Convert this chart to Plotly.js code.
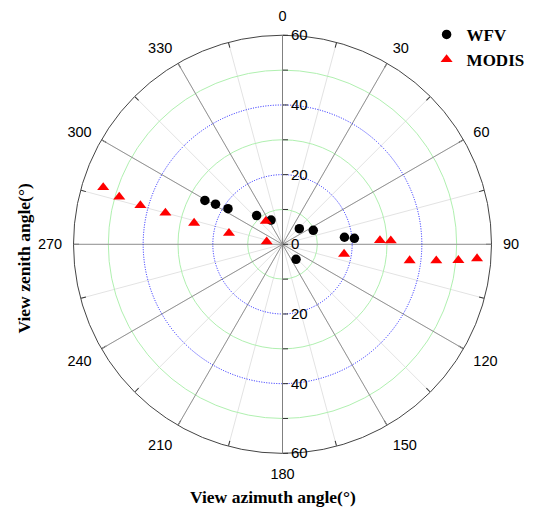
<!DOCTYPE html>
<html>
<head>
<meta charset="utf-8">
<script src="https://cdn.plot.ly/plotly-3.0.1.min.js"></script>
<style>html,body{margin:0;padding:0;background:#fff;}#chart{width:540px;height:510px;}</style>
</head>
<body>
<div id="chart"></div>
<script>
// WFV observations: view azimuth (deg) and view zenith (deg)
var wfvAzimuth = [299.5, 300.9, 303.2, 318, 334.7, 47.1, 65.6, 83.5, 85.2, 138];
var wfvZenith  = [25.6, 22.4, 18.7, 11.1, 7.7, 6.6, 9.7, 17.9, 20.7, 5.8];
// MODIS observations
var modisAzimuth = [287.6, 286.2, 285.3, 285, 283.5, 281.7, 324.2, 279.3, 99.0, 87.7, 88.1, 97.3, 96.1, 95.2, 94.2];
var modisZenith  = [54.0, 48.8, 42.3, 34.8, 26.1, 15.7, 8.2, 4.6, 17.9, 28.0, 31.1, 36.8, 44.4, 50.7, 56.0];
// Tick labels
var angularVals = [0, 30, 60, 90, 120, 150, 180, 210, 240, 270, 300, 330];
var angularText = ['0', '30', '60', '90', '120', '150', '180', '210', '240', '270', '300', '330'];
var radialTopVals = [0, 10, 20, 30, 40, 50, 60];
var radialTopText = ['0', '', '20', '', '40', '', '60'];
var radialBotVals = [10, 20, 30, 40, 50, 60];
var radialBotText = ['', '20', '', '40', '', '60'];

var dom = {x: [73.5/540, 491.5/540], y: [1 - 453.3/510, 1 - 35.3/510]};
var tickFont = {family: 'Liberation Sans, Arial, sans-serif', size: 14.5, color: '#000'};

function baseAngular(extra) {
  var a = {rotation: 90, direction: 'clockwise', showline: false, showgrid: false,
           showticklabels: false, ticks: ''};
  for (var k in extra) a[k] = extra[k];
  return a;
}
function baseRadial(extra) {
  var r = {range: [0, 60], showline: false, showgrid: false, showticklabels: false, ticks: ''};
  for (var k in extra) r[k] = extra[k];
  return r;
}
function holder(sp) {
  return {type: 'scatterpolar', mode: 'markers', subplot: sp, r: [null], theta: [null],
          showlegend: false, hoverinfo: 'skip', marker: {size: 1, opacity: 0}};
}

var traces = [
  holder('polar'), holder('polar2'), holder('polar3'),
  {type: 'scatterpolar', mode: 'markers', name: 'WFV', subplot: 'polar4',
   theta: wfvAzimuth, r: wfvZenith,
   marker: {symbol: 'circle', size: 9.5, color: '#000'}},
  {type: 'scatterpolar', mode: 'markers', name: 'MODIS', subplot: 'polar4',
   theta: modisAzimuth, r: modisZenith,
   marker: {symbol: 'triangle-up', size: 10.5, color: '#ff0000'}}
];

var layout = {
  width: 540, height: 510,
  margin: {l: 0, r: 0, t: 0, b: 0},
  paper_bgcolor: '#fff',
  showlegend: true,
  legend: {x: 0.79, y: 0.967, xanchor: 'left', yanchor: 'top',
           font: {family: 'Liberation Serif, Times New Roman, serif', size: 17, weight: 'bold', color: '#000'},
           bgcolor: 'rgba(0,0,0,0)', tracegroupgap: 0},
  polar: {
    domain: dom, bgcolor: 'rgba(0,0,0,0)',
    angularaxis: baseAngular({showgrid: true, gridcolor: '#e3e3e3', gridwidth: 1, dtick: 15,
                              ticks: 'inside', ticklen: 5, tickcolor: '#333', tickwidth: 1}),
    radialaxis: baseRadial({showgrid: true, tickvals: [10, 30, 50], gridcolor: '#b0f0b0', gridwidth: 1})
  },
  polar2: {
    domain: dom, bgcolor: 'rgba(0,0,0,0)',
    angularaxis: baseAngular({showgrid: true, gridcolor: '#949494', gridwidth: 1,
                              tickmode: 'array', tickvals: angularVals, ticktext: angularText,
                              ticksuffix: '', showticksuffix: 'none',
                              showticklabels: true, tickfont: tickFont,
                              ticks: 'outside', ticklen: 8, tickcolor: 'rgba(0,0,0,0)'}),
    radialaxis: baseRadial({showgrid: true, tickvals: [20, 40], gridcolor: '#1a1aff', gridwidth: 1, griddash: '1px,1.5px'})
  },
  polar3: {
    domain: dom, bgcolor: 'rgba(0,0,0,0)',
    angularaxis: baseAngular({showline: true, linecolor: '#444', linewidth: 1}),
    radialaxis: baseRadial({angle: 90, side: 'clockwise', showline: true, linecolor: '#808080', linewidth: 1,
                            tickvals: radialTopVals, ticktext: radialTopText, showticklabels: true,
                            ticks: 'outside', ticklen: 5, tickcolor: '#333', tickangle: 90,
                            tickfont: {family: 'Liberation Sans, Arial, sans-serif', size: 15, color: '#000'}})
  },
  polar4: {
    domain: dom, bgcolor: 'rgba(0,0,0,0)',
    angularaxis: baseAngular({}),
    radialaxis: baseRadial({angle: 270, side: 'counterclockwise', showline: true, linecolor: '#808080', linewidth: 1,
                            tickvals: radialBotVals, ticktext: radialBotText, showticklabels: true,
                            ticks: 'outside', ticklen: 5, tickcolor: '#333', tickangle: -90,
                            tickfont: {family: 'Liberation Sans, Arial, sans-serif', size: 15, color: '#000'}})
  },
  annotations: [
    {text: 'View azimuth angle(°)', xref: 'paper', yref: 'paper', x: 273/540, y: 1 - 497/510,
     xanchor: 'center', yanchor: 'middle', showarrow: false,
     font: {family: 'Liberation Serif, Times New Roman, serif', size: 17.5, weight: 'bold', color: '#000'}},
    {text: 'View zenith angle(°)', xref: 'paper', yref: 'paper', x: 23/540, y: 1 - 258.5/510,
     xanchor: 'center', yanchor: 'middle', showarrow: false, textangle: -90,
     font: {family: 'Liberation Serif, Times New Roman, serif', size: 17.5, weight: 'bold', color: '#000'}}
  ]
};

Plotly.newPlot('chart', traces, layout, {displayModeBar: false, staticPlot: true});
</script>
</body>
</html>
